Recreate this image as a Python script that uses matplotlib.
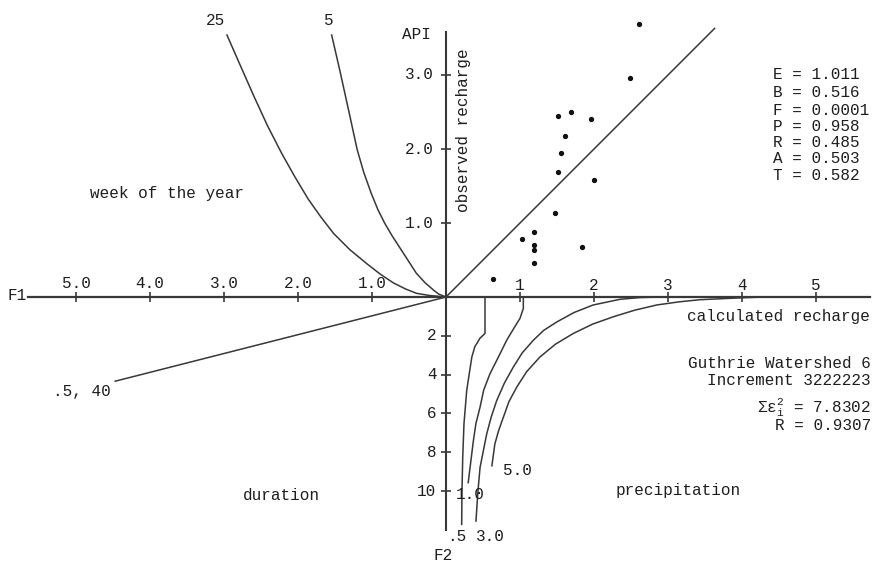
import matplotlib.pyplot as plt

plt.rcParams['font.family'] = ['Liberation Mono', 'DejaVu Sans Mono', 'DejaVu Sans']
plt.rcParams['mathtext.fontset'] = 'custom'
plt.rcParams['mathtext.rm'] = 'Liberation Mono'
plt.rcParams['mathtext.it'] = 'Liberation Mono'

# --- data ---

# upper right: observed vs calculated recharge (points) + 1:1 line
calcRecharge = [2.61, 2.49, 1.69, 1.52, 1.96, 1.61, 1.55, 1.51, 2.00, 1.47,
                1.03, 1.19, 1.19, 1.19, 1.19, 1.84, 0.63]
obsRecharge = [3.69, 2.96, 2.50, 2.44, 2.41, 2.18, 1.94, 1.69, 1.58, 1.14,
               0.79, 0.88, 0.70, 0.63, 0.46, 0.67, 0.24]
oneToOne = [0.0, 3.63]

# upper left: week of the year curves, F1 (leftwards) vs API
weekLabels = ['25', '5']
weekF1 = [
    [2.96, 2.78, 2.59, 2.41, 2.22, 2.04, 1.86, 1.69, 1.52, 1.30, 1.07, 0.89,
     0.71, 0.55, 0.40, 0.22, 0.0],
    [1.545, 1.43, 1.30, 1.20, 1.11, 1.01, 0.92, 0.83, 0.73, 0.62, 0.51, 0.40,
     0.28, 0.17, 0.10, 0.0],
]
weekAPI = [
    [3.54, 3.13, 2.70, 2.31, 1.94, 1.62, 1.32, 1.08, 0.86, 0.64, 0.45, 0.31,
     0.19, 0.11, 0.05, 0.02, 0.0],
    [3.54, 3.04, 2.45, 1.99, 1.68, 1.40, 1.18, 1.00, 0.83, 0.66, 0.49, 0.32,
     0.19, 0.095, 0.04, 0.0],
]

# lower left: duration line, F1 vs F2
durationLabel = '.5, 40'
durationF1 = [0.0, 4.47]
durationF2 = [0.0, 4.34]

# lower right: precipitation curves, calculated recharge vs F2
precipLabels = ['.5', '1.0', '3.0', '5.0']
precipRecharge = [
    [0.527, 0.527, 0.46, 0.39, 0.35, 0.315, 0.28, 0.243, 0.226, 0.216, 0.212],
    [1.045, 1.045, 1.0, 0.93, 0.82, 0.71, 0.595, 0.51, 0.46, 0.405, 0.37, 0.30],
    [2.9, 2.62, 2.35, 1.99, 1.73, 1.50, 1.32, 1.18, 1.03, 0.91, 0.79, 0.685,
     0.61, 0.55, 0.46, 0.43, 0.405],
    [4.3, 4.0, 3.43, 3.15, 2.85, 2.55, 2.26, 1.98, 1.72, 1.48, 1.27, 1.09,
     0.955, 0.85, 0.775, 0.71, 0.66, 0.62],
]
precipF2 = [
    [0.0, 1.88, 2.12, 2.56, 3.08, 3.93, 4.82, 6.53, 8.27, 10.0, 11.72],
    [0.0, 0.59, 1.1, 1.53, 2.23, 3.08, 3.95, 4.79, 5.68, 6.51, 7.41, 9.57],
    [0.0, 0.03, 0.12, 0.41, 0.80, 1.28, 1.72, 2.23, 2.88, 3.61, 4.43, 5.34,
     6.2, 7.06, 8.79, 10.1, 11.55],
    [0.0, 0.04, 0.14, 0.25, 0.41, 0.68, 1.02, 1.40, 1.88, 2.43, 3.09, 3.85,
     4.65, 5.4, 6.2, 6.9, 7.58, 8.7],
]

# axis ticks
rechargeTicks = [1, 2, 3, 4, 5]
f1Ticks = [1.0, 2.0, 3.0, 4.0, 5.0]
apiTicks = [1.0, 2.0, 3.0]
f2Ticks = [2, 4, 6, 8, 10]

# fitted parameters and stats
paramNames = ['E', 'B', 'F', 'P', 'R', 'A', 'T']
paramValues = ['1.011', '0.516', '0.0001', '0.958', '0.485', '0.503', '0.582']
sumSqErr = '7.8302'
corrR = '0.9307'

# --- layout ---
W, H = 876, 570
ORIGIN_X, ORIGIN_Y = 446, 297
PX = 74.0       # pixels per unit (recharge, F1, API)
PX_F2 = 19.4    # pixels per unit of F2
INK = '#1e1e1e'
LINE = '#383838'
FS = 11.5

fig = plt.figure(figsize=(W / 100, H / 100), dpi=100)
fig.patch.set_facecolor('white')
axTop = fig.add_axes([0, (H - ORIGIN_Y) / H, 1, ORIGIN_Y / H])
axBot = fig.add_axes([0, 0, 1, (H - ORIGIN_Y) / H])
xlim = (-ORIGIN_X / PX, (W - ORIGIN_X) / PX)
axTop.set_xlim(xlim)
axTop.set_ylim(0, ORIGIN_Y / PX)
axBot.set_xlim(xlim)
axBot.set_ylim((H - ORIGIN_Y) / PX_F2, 0)
for ax in (axTop, axBot):
    ax.axis('off')

# main axes lines
axTop.plot([-5.65, 5.73], [0, 0], color=LINE, lw=1.6, clip_on=False)
axTop.plot([0, 0], [0, 3.585], color=LINE, lw=1.5, clip_on=False)
axBot.plot([0, 0], [0, 12.0], color=LINE, lw=1.5, clip_on=False)

# tick marks
axTop.plot(rechargeTicks, [0] * len(rechargeTicks), ls='none', marker='|',
           ms=7, mew=1.2, color=LINE, clip_on=False)
axTop.plot([-t for t in f1Ticks], [0] * len(f1Ticks), ls='none', marker='|',
           ms=7, mew=1.2, color=LINE, clip_on=False)
axTop.plot([0] * len(apiTicks), apiTicks, ls='none', marker='_',
           ms=7, mew=1.2, color=LINE, clip_on=False)
axBot.plot([0] * len(f2Ticks), f2Ticks, ls='none', marker='_',
           ms=7, mew=1.2, color=LINE, clip_on=False)

# tick labels
for t in rechargeTicks:
    axTop.text(t, 0.16, str(t), ha='center', va='center', fontsize=FS, color=INK)
for t in f1Ticks:
    axTop.text(-t, 0.185, '%.1f' % t, ha='center', va='center', fontsize=FS, color=INK)
for t in apiTicks:
    axTop.text(-0.17, t, '%.1f' % t, ha='right', va='center', fontsize=FS, color=INK)
for t in f2Ticks:
    axBot.text(-0.13, t, str(t), ha='right', va='center', fontsize=FS, color=INK)

# upper right quadrant
axTop.plot(oneToOne, oneToOne, color=LINE, lw=1.1, clip_on=False)
axTop.plot(calcRecharge, obsRecharge, ls='none', marker='o', ms=2.8,
           color='#111111', clip_on=False)

# upper left quadrant
labelPos = [(-3.11, 3.73), (-1.58, 3.74)]
for i, lab in enumerate(weekLabels):
    axTop.plot([-f for f in weekF1[i]], weekAPI[i], color=LINE, lw=1.1, clip_on=False)
    axTop.text(labelPos[i][0], labelPos[i][1], lab, ha='center', va='center',
               fontsize=FS, color=INK)

# lower left quadrant
axBot.plot([-f for f in durationF1], durationF2, color=LINE, lw=1.1, clip_on=False)
axBot.text(-4.92, 4.88, durationLabel, ha='center', va='center', fontsize=FS, color=INK)

# lower right quadrant
precipPos = [(0.145, 12.36), (0.33, 10.2), (0.595, 12.36), (0.97, 8.92)]
for i, lab in enumerate(precipLabels):
    axBot.plot(precipRecharge[i], precipF2[i], color=LINE, lw=1.1, clip_on=False)
    axBot.text(precipPos[i][0], precipPos[i][1], lab, ha='center', va='center',
               fontsize=FS, color=INK)

# axis titles / annotations
axTop.text(-5.66, 0.02, 'F1', ha='right', va='center', fontsize=FS, color=INK)
axTop.text(-0.40, 3.55, 'API', ha='center', va='center', fontsize=FS, color=INK)
axTop.text(0.234, 2.25, 'observed recharge', ha='center', va='center',
           rotation=90, fontsize=FS, color=INK)
axTop.text(-3.77, 1.40, 'week of the year', ha='center', va='center',
           fontsize=FS, color=INK)
axBot.text(5.73, 0.98, 'calculated recharge', ha='right', va='center',
           fontsize=FS, color=INK)
axBot.text(-2.22, 10.24, 'duration', ha='center', va='center', fontsize=FS, color=INK)
axBot.text(3.14, 9.95, 'precipitation', ha='center', va='center', fontsize=FS, color=INK)
axBot.text(-0.04, 13.3, 'F2', ha='center', va='center', fontsize=FS, color=INK)

# parameter list
paramY = [3.0, 2.77, 2.52, 2.31, 2.09, 1.87, 1.64]
for name, val, y in zip(paramNames, paramValues, paramY):
    axTop.text(4.42, y, name + ' = ' + val, ha='left', va='center',
               fontsize=FS, color=INK)

# watershed summary
axBot.text(5.74, 3.45, 'Guthrie Watershed 6', ha='right', va='center', fontsize=FS, color=INK)
axBot.text(5.74, 4.30, 'Increment 3222223', ha='right', va='center', fontsize=FS, color=INK)
axBot.text(5.74, 5.72, r'Σε$_\mathregular{i}^\mathregular{2}$ = ' + sumSqErr,
           ha='right', va='center', fontsize=FS, color=INK)
axBot.text(5.74, 6.6, 'R = ' + corrR, ha='right', va='center', fontsize=FS, color=INK)

fig.savefig('out.png', dpi=100, facecolor='white')
